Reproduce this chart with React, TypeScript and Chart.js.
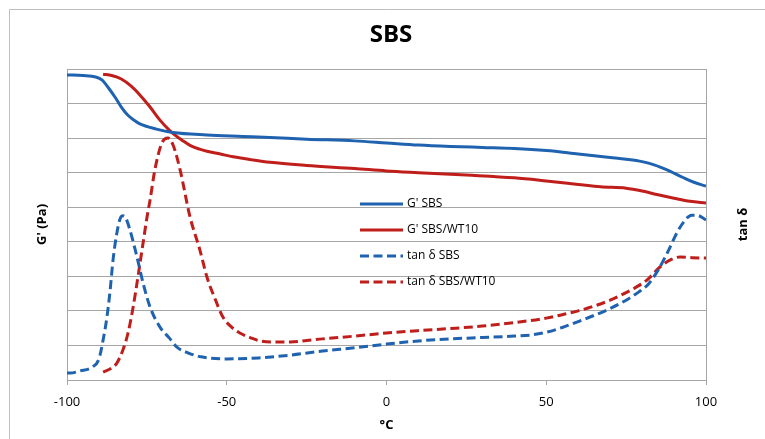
import React, { useEffect, useRef } from "react";
import { Chart, registerables } from "chart.js";

Chart.register(...registerables);

const chartTitle = "SBS";
const xTitle = "°C";
const yLeftTitle = "G' (Pa)";
const yRightTitle = "tan δ";
const xTickValues = [-100, -50, 0, 50, 100];

const seriesLabels = ["G' SBS", "G' SBS/WT10", "tan δ SBS", "tan δ SBS/WT10"];

// G' SBS
const gSbsT = [-100, -95, -91, -89, -87, -85, -83, -81, -79, -77.2, -72, -66.8, -56.2, -45, -36.5, -25, -10, 0, 10, 20, 30, 40, 50, 60, 70, 75, 80, 84, 87.8, 92.8, 96, 100];
const gSbsV = [8.83, 8.81, 8.77, 8.68, 8.45, 8.19, 7.9, 7.67, 7.52, 7.41, 7.26, 7.16, 7.09, 7.05, 7.02, 6.97, 6.92, 6.86, 6.8, 6.76, 6.73, 6.7, 6.64, 6.54, 6.44, 6.39, 6.32, 6.22, 6.08, 5.86, 5.73, 5.61];

// G' SBS/WT10
const gWtT = [-88.7, -86, -83, -80, -77.2, -74, -70.9, -68, -66.8, -64, -61.5, -58.5, -56.2, -52, -48, -42, -36.5, -25, -10, 0, 10, 25, 40, 50, 60, 67, 75, 80, 85, 90, 95, 100];
const gWtV = [8.85, 8.81, 8.71, 8.51, 8.25, 7.9, 7.52, 7.23, 7.13, 6.94, 6.79, 6.68, 6.62, 6.54, 6.46, 6.37, 6.3, 6.21, 6.12, 6.05, 6.0, 5.93, 5.85, 5.76, 5.66, 5.59, 5.55, 5.47, 5.36, 5.26, 5.17, 5.12];

// tan δ SBS
const tSbsT = [-100, -99, -96, -92, -90, -88.7, -87.5, -86.5, -85.6, -84.4, -83.4, -82.5, -81.8, -80.3, -78.1, -76.2, -74, -70.9, -68, -65.6, -62, -58, -50, -40, -30, -20, -10, 0, 10, 20, 30, 40, 45, 50, 55, 60, 65, 70, 75, 79, 82, 85, 88, 91, 93, 95.5, 97.5, 100];
const tSbsV = [0.2, 0.2, 0.26, 0.38, 0.61, 1.16, 1.82, 2.6, 3.47, 4.25, 4.66, 4.75, 4.72, 4.34, 3.56, 2.81, 2.11, 1.53, 1.22, 0.95, 0.78, 0.67, 0.61, 0.64, 0.72, 0.84, 0.93, 1.04, 1.13, 1.19, 1.23, 1.27, 1.3, 1.38, 1.52, 1.69, 1.87, 2.07, 2.31, 2.55, 2.78, 3.18, 3.7, 4.28, 4.57, 4.77, 4.76, 4.63];

// tan δ SBS/WT10
const tWtT = [-88.7, -86, -84.4, -82.5, -80.9, -79.3, -77.8, -76.2, -75, -74, -72.5, -70.3, -68.4, -66.8, -64.6, -61.5, -58.4, -56.2, -53.5, -51.2, -48.5, -45.9, -42.5, -39.6, -35, -30, -25, -20, -10, 0, 10, 20, 30, 40, 50, 55, 60, 65, 70, 75, 78, 81.5, 85.6, 88.7, 91.9, 95.6, 100];
const tWtV = [0.23, 0.35, 0.49, 0.87, 1.36, 2.11, 2.98, 3.96, 4.69, 5.21, 6.08, 6.86, 7.0, 6.8, 6.08, 4.72, 3.76, 2.98, 2.31, 1.82, 1.53, 1.36, 1.22, 1.13, 1.1, 1.1, 1.14, 1.19, 1.27, 1.36, 1.43, 1.49, 1.56, 1.66, 1.79, 1.89, 2.0, 2.14, 2.31, 2.53, 2.68, 2.89, 3.27, 3.47, 3.56, 3.54, 3.53];

const BLUE = "#1F63B0";
const RED = "#BF1E1B";
const GRID = "#A6A6A6";
const FONT = "'Open Sans', 'Noto Sans', sans-serif";

const toPts = (t: number[], v: number[]) => t.map((x, i) => ({ x, y: v[i] }));

const decorPlugin = {
  id: "decor",
  beforeDraw(chart: any) {
    const { ctx, width, height } = chart;
    ctx.save();
    ctx.fillStyle = "#ffffff";
    ctx.fillRect(0, 0, width, height);
    ctx.strokeStyle = "#BFBFBF";
    ctx.lineWidth = 1;
    ctx.beginPath();
    ctx.moveTo(9.5, height);
    ctx.lineTo(9.5, 9.5);
    ctx.lineTo(width, 9.5);
    ctx.stroke();
    ctx.restore();
  },
  afterDraw(chart: any) {
    const { ctx, chartArea } = chart;
    ctx.save();
    // title
    ctx.fillStyle = "#000";
    ctx.font = `bold 24px ${FONT}`;
    ctx.textAlign = "center";
    ctx.textBaseline = "alphabetic";
    ctx.fillText(chartTitle, chartArea.left + 324, 42);
    // right axis title, reading bottom to top
    ctx.save();
    ctx.translate(chartArea.right + 37, (chartArea.top + chartArea.bottom) / 2);
    ctx.rotate(-Math.PI / 2);
    ctx.font = `bold 13px ${FONT}`;
    ctx.textAlign = "center";
    ctx.textBaseline = "middle";
    ctx.fillText(yRightTitle, 0, 0);
    ctx.restore();
    // legend
    const lx = chartArea.left + 293;
    const ly = chartArea.top + 135;
    chart.data.datasets.forEach((ds: any, i: number) => {
      const y = ly + i * 26;
      ctx.strokeStyle = ds.borderColor;
      ctx.lineWidth = 3;
      ctx.setLineDash(ds.borderDash || []);
      ctx.beginPath();
      ctx.moveTo(lx, y);
      ctx.lineTo(lx + 43, y);
      ctx.stroke();
      ctx.setLineDash([]);
      ctx.fillStyle = "#000";
      ctx.font = `12px ${FONT}`;
      ctx.textAlign = "left";
      ctx.textBaseline = "middle";
      ctx.fillText(ds.label, lx + 47, y);
    });
    ctx.restore();
  },
};

export default function App() {
  const ref = useRef<HTMLCanvasElement>(null);
  useEffect(() => {
    if (!ref.current) return;
    const dash = [9, 4.5];
    const chart = new Chart(ref.current, {
      type: "line",
      data: {
        datasets: [
          { label: seriesLabels[0], data: toPts(gSbsT, gSbsV), borderColor: BLUE, borderWidth: 3 },
          { label: seriesLabels[1], data: toPts(gWtT, gWtV), borderColor: RED, borderWidth: 3 },
          { label: seriesLabels[2], data: toPts(tSbsT, tSbsV), borderColor: BLUE, borderWidth: 3, borderDash: dash },
          { label: seriesLabels[3], data: toPts(tWtT, tWtV), borderColor: RED, borderWidth: 3, borderDash: dash },
        ] as any,
      },
      options: {
        animation: false,
        responsive: false,
        devicePixelRatio: 1,
        parsing: false as any,
        elements: {
          point: { radius: 0 },
          line: { cubicInterpolationMode: "monotone", fill: false },
        },
        layout: { padding: { top: 69, left: 0, right: 0, bottom: 0 } },
        plugins: { legend: { display: false }, title: { display: false }, tooltip: { enabled: false } },
        scales: {
          x: {
            type: "linear",
            min: -100,
            max: 100,
            afterBuildTicks: (s: any) => {
              s.ticks = xTickValues.map((v) => ({ value: v }));
            },
            afterFit: (s: any) => {
              s.height = 59;
            },
            grid: { drawOnChartArea: false, drawTicks: true, tickLength: 5, color: GRID },
            border: { color: GRID },
            ticks: { padding: 9, color: "#000", font: { family: FONT, size: 13 } },
            title: { display: true, text: xTitle, color: "#000", font: { family: FONT, size: 13, weight: "bold" }, padding: { top: 0, bottom: 6 } },
          },
          y: {
            position: "left",
            min: 0,
            max: 9,
            afterBuildTicks: (s: any) => {
              s.ticks = [0, 1, 2, 3, 4, 5, 6, 7, 8, 9].map((v) => ({ value: v }));
            },
            afterFit: (s: any) => {
              s.width = 67;
            },
            grid: { color: GRID, drawTicks: false },
            border: { color: GRID },
            ticks: { display: false },
            title: { display: true, text: yLeftTitle, color: "#000", font: { family: FONT, size: 13, weight: "bold" }, padding: { top: 34, bottom: 0 } },
          },
          y2: {
            position: "right",
            min: 0,
            max: 9,
            afterFit: (s: any) => {
              s.width = 59;
            },
            grid: { drawOnChartArea: false, drawTicks: false },
            border: { color: GRID },
            ticks: { display: false },
            title: { display: false },
          },
        },
      } as any,
      plugins: [decorPlugin],
    });
    return () => chart.destroy();
  }, []);
  return (
    <div style={{ position: "absolute", left: 0, top: 0, width: 765, height: 439 }}>
      <canvas ref={ref} width={765} height={439} style={{ width: 765, height: 439, display: "block" }} />
    </div>
  );
}
